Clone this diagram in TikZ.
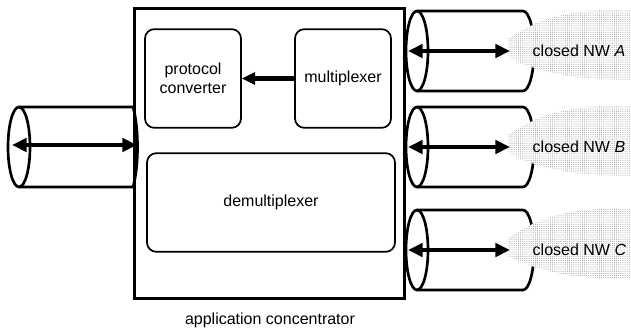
\documentclass[tikz,border=0pt]{standalone}
\usepackage{fontspec}
\setmainfont{Liberation Sans}
\usetikzlibrary{arrows.meta,patterns.meta}
\begin{document}
\begin{tikzpicture}[x=0.75pt,y=-0.75pt,font=\fontsize{12}{14}\selectfont,
  blk/.style={draw,rounded corners=7pt,line width=1.3pt,minimum width=72pt,minimum height=74pt,align=center},
  cyl/.style={line width=2pt},
  dbl/.style={line width=3.5pt,{Triangle[length=11pt,width=10pt]}-{Triangle[length=11pt,width=10pt]}},
  nwcloud/.style={preaction={fill=white},pattern={Dots[distance=1.6pt,radius=0.4pt]},pattern color=gray!75}]
\useasboundingbox (0,0) rectangle (631,331);

% concentrator
\node[draw,line width=2.2pt,minimum width=203pt,minimum height=217pt] (conc) at (269.5,153.5) {};
\node (conclbl) at (270,320) {application concentrator};
\node[blk] (conv) at (193,78.5) {protocol\\converter};
\node[blk] (mux) at (343,78.5) {multiplexer};
\node[blk,minimum width=186pt] (demux) at (271,202.5) {demultiplexer};
\draw[line width=3.2pt,-{Triangle[length=10pt,width=9pt]}] (mux) -- (conv);

% line on the left
\draw[cyl] (19,147) ellipse [x radius=11,y radius=40];
\draw[cyl] (19,107) -- (133,107) .. controls (139,127) and (139,167) .. (133,187) -- (19,187);
\coordinate (inL) at (12,145);
\coordinate (outL) at (137,145);
\draw[dbl] (inL) -- (outL);

% lines to the closed networks
\foreach \y/\n in {51/A,147/B,250/C}{
  \draw[cyl] (417,\y) ellipse [x radius=11,y radius=40];
  \draw[cyl] (417,\y-40) -- (523,\y-40) arc[start angle=-90,end angle=90,x radius=11,y radius=40] -- (417,\y+40);
  \path[nwcloud] (508,\y-12) .. controls (525,\y-22) and (545,\y-38) .. (600,\y-41) -- (640,\y-42)
    -- (640,\y+29) -- (600,\y+28) .. controls (550,\y+26) and (525,\y+14) .. (508,\y+6) -- cycle;
  \coordinate (in\n) at (408,\y);
  \coordinate (out\n) at (510,\y);
  \draw[dbl] (in\n) -- (out\n);
  \node[anchor=west] (nw\n) at (528,\y) {closed NW \textit{\n}};
}
\end{tikzpicture}
\end{document}
